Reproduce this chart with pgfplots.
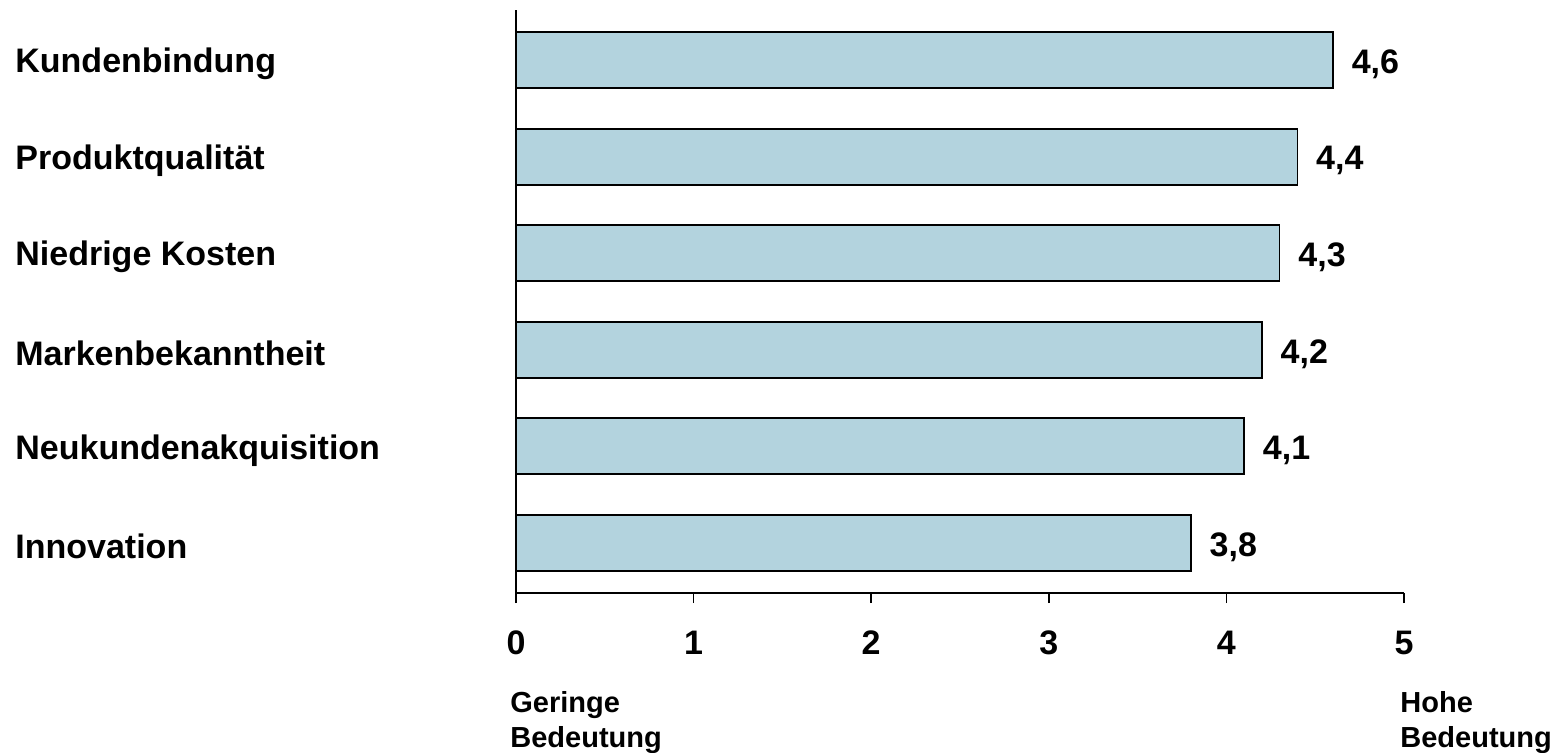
\documentclass[border=0pt]{standalone}
\usepackage{pgfplots}
\pgfplotsset{compat=1.18}
\usepackage{fontspec}
\setmainfont{Liberation Sans}
\definecolor{barblue}{RGB}{179,211,222}
\begin{document}
\fontsize{17pt}{17.5pt}\selectfont\bfseries
\begin{tikzpicture}
\begin{axis}[
  scale only axis, width=444pt, height=291.5pt,
  xmin=0, xmax=5, ymin=-0.52, ymax=5.52,
  axis lines=left,
  x axis line style={-, line width=0.8pt},
  y axis line style={-, line width=0.8pt},
  xtick={0,1,2,3,4,5},
  ytick={0,1,2,3,4,5},
  yticklabels={Innovation,Neukundenakquisition,Markenbekanntheit,Niedrige Kosten,Produktqualität,Kundenbindung},
  tick align=outside, major tick length=5pt,
  xtick style={line width=0.8pt, black},
  ytick style={draw=none},
  /pgf/number format/assume math mode=true,
  ticklabel style={font=\fontsize{17pt}{17.5pt}\selectfont\bfseries},
  xticklabel style={yshift=-8pt},
  yticklabel style={anchor=west, inner sep=0pt, xshift=-245.5pt, yshift=-2pt},
  xbar, bar width=28pt,
  point meta=x,
  nodes near coords={\pgfmathprintnumber[use comma,fixed,fixed zerofill,precision=1,assume math mode=true]{\pgfplotspointmeta}},
  every node near coord/.append style={anchor=west, inner sep=0pt, xshift=9pt, yshift=-2pt, font=\fontsize{17pt}{17.5pt}\selectfont\bfseries, black},
  clip=false,
]
\addplot[fill=barblue, draw=black, line width=0.8pt] coordinates {
  (3.8,0) (4.1,1) (4.2,2) (4.3,3) (4.4,4) (4.6,5)
};
\node[anchor=north west, inner sep=0pt, align=left, xshift=-3pt, yshift=-49pt, font=\fontsize{14.5pt}{17.5pt}\selectfont\bfseries] at (axis cs:0,-0.52) {Geringe\\Bedeutung};
\node[anchor=north west, inner sep=0pt, align=left, xshift=-2pt, yshift=-49pt, font=\fontsize{14.5pt}{17.5pt}\selectfont\bfseries] at (axis cs:5,-0.52) {Hohe\\Bedeutung};
\end{axis}
\pgfresetboundingbox
\path[use as bounding box] ([shift={(-258pt,-79.5pt)}]current axis.south west) rectangle ([shift={(75.5pt,5pt)}]current axis.north east);
\end{tikzpicture}
\end{document}
